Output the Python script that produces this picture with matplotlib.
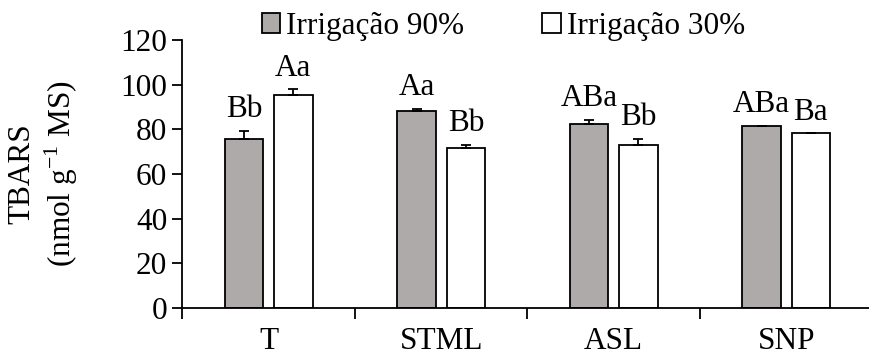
import numpy as np
import matplotlib
matplotlib.use("Agg")
import matplotlib.pyplot as plt
from matplotlib.patches import Patch

# --- DATA ---------------------------------------------------------------------
categories = ["T", "STML", "ASL", "SNP"]
series_names = ["Irrigação 90%", "Irrigação 30%"]

irr90 = [75.8, 88.1, 82.2, 81.5]
irr90_err = [3.5, 1.0, 2.0, 0.0]
irr90_lab = ["Bb", "Aa", "ABa", "ABa"]

irr30 = [95.5, 71.5, 72.8, 78.1]
irr30_err = [2.3, 1.3, 2.7, 0.0]
irr30_lab = ["Aa", "Bb", "Bb", "Ba"]

# --- STYLE --------------------------------------------------------------------
plt.rcParams["font.family"] = ["Liberation Serif", "DejaVu Serif"]
plt.rcParams["mathtext.fontset"] = "custom"
plt.rcParams["mathtext.rm"] = "Liberation Serif"

GRAY = "#AEAAAA"
FS = 22.5

fig = plt.figure(figsize=(8.69, 3.56), dpi=100)
ax = fig.add_axes([0.21, 0.135, 0.79, 0.753])

x = np.arange(len(categories))
w = 0.223
off = 0.143

ax.bar(x - off, irr90, w, color=GRAY, edgecolor="black", linewidth=1.3,
       yerr=[np.zeros(4), irr90_err], capsize=3.5,
       error_kw=dict(elinewidth=1.3, capthick=1.3, ecolor="black"))
ax.bar(x + off, irr30, w, color="white", edgecolor="black", linewidth=1.3,
       yerr=[np.zeros(4), irr30_err], capsize=3.5,
       error_kw=dict(elinewidth=1.3, capthick=1.3, ecolor="black"))

# letters above bars
for i in range(len(categories)):
    ax.annotate(irr90_lab[i], (x[i] - off, irr90[i] + irr90_err[i]),
                xytext=(0, 5), textcoords="offset points",
                ha="center", va="bottom", fontsize=FS)
    ax.annotate(irr30_lab[i], (x[i] + off, irr30[i] + irr30_err[i]),
                xytext=(0, 5), textcoords="offset points",
                ha="center", va="bottom", fontsize=FS)

# --- AXES ---------------------------------------------------------------------
ax.set_xlim(-0.5, 3.48)
ax.set_ylim(0, 120)
ax.set_yticks(range(0, 121, 20))
ax.tick_params(axis="y", direction="out", length=7, width=1.3, labelsize=FS, pad=4)

ax.set_xticks(x)
ax.set_xticklabels(categories)
ax.tick_params(axis="x", which="major", length=0, labelsize=FS, pad=14)
ax.set_xticks([-0.5, 0.5, 1.5, 2.5], minor=True)
ax.tick_params(axis="x", which="minor", direction="out", length=8, width=1.3)

for s in ["top", "right"]:
    ax.spines[s].set_visible(False)
for s in ["left", "bottom"]:
    ax.spines[s].set_linewidth(1.3)

ax.set_ylabel("TBARS\n(nmol g$^{-1}$ MS)", fontsize=FS, linespacing=1.2)
ax.yaxis.set_label_coords(-0.15, 0.5)

# --- LEGEND -------------------------------------------------------------------
handles = [Patch(facecolor=GRAY, edgecolor="black", linewidth=1.3),
           Patch(facecolor="white", edgecolor="black", linewidth=1.3)]
fig.legend(handles, series_names, loc="center", bbox_to_anchor=(0.579, 0.925),
           ncol=2, frameon=False, fontsize=FS, handlelength=0.6,
           handleheight=0.6, handletextpad=0.18, columnspacing=2.5,
           borderpad=0)

fig.savefig("out.png", dpi=100)
